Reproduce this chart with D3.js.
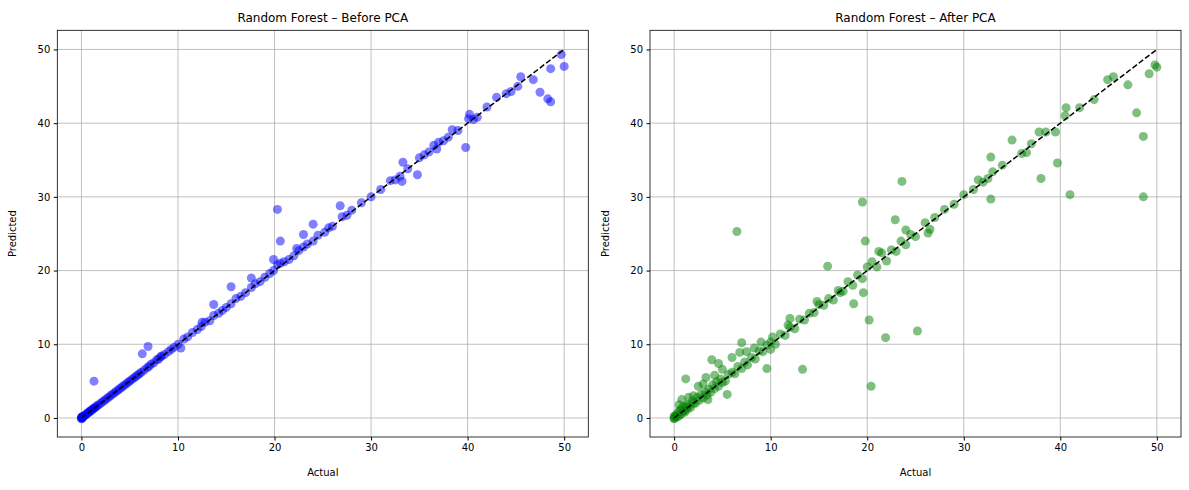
<!DOCTYPE html>
<html><head><meta charset="utf-8">
<script src="https://cdn.jsdelivr.net/npm/d3@7/dist/d3.min.js"></script>
<style>body{margin:0;background:#fff;font-family:"DejaVu Sans",sans-serif;}</style>
</head><body><svg id="c" width="1189" height="490"></svg>
<script>
const xTicks=[0,10,20,30,40,50];
const yTicks=[0,10,20,30,40,50];
const titles=["Random Forest – Before PCA","Random Forest – After PCA"];
const colors=["#0000ff","#008000"];
// Before PCA: [actual, predicted]
const beforeActual=[0,0,0,0.05,0.1,0.1,0.15,0.2,0.3,0.4,0.5,0.6,0.7,0.8,0.9,1.0,1.1,1.2,1.3,1.4,1.5,1.6,1.8,2.0,2.2,2.4,2.6,2.8,3.0,3.2,3.4,3.6,3.8,4.0,4.2,4.4,4.6,4.8,5.0,5.2,5.4,5.6,5.8,6.0,6.2,6.5,6.8,7.0,7.2,7.5,7.8,8.0,8.3,8.6,9.0,9.3,9.6,10.0,10.3,10.6,11.0,11.5,12.0,12.4,12.8,13.3,13.7,14.2,14.6,15.0,15.5,16.0,16.5,17.0,17.6,18.0,18.5,19.0,19.5,19.9,20.3,20.6,21.0,21.5,22.0,22.5,23.0,23.4,24.0,24.5,25.2,25.6,26.0,27.0,27.5,28.0,29.0,30.0,31.0,32.0,32.5,33.0,33.3,33.8,34.8,35.0,35.5,36.0,36.5,37.0,37.5,38.0,38.4,39.0,39.8,40.2,40.6,41.0,42.0,43.0,44.0,44.5,45.5,45.2,46.8,47.5,48.3,48.6,48.6,49.7,50.0,1.3,6.3,6.9,20.3,20.6,24.0,23.0,17.6,15.5,13.7,19.9,12.5,8.2,22.3,26.8,33.2,36.8,40.1];
const beforePred=[0,0.1,-0.1,0.05,0.15,0,0.2,0.2,0.3,0.4,0.5,0.6,0.75,0.8,0.95,1.0,1.1,1.25,1.3,1.4,1.5,1.65,1.8,2.0,2.2,2.4,2.6,2.8,3.0,3.2,3.4,3.6,3.8,4.0,4.2,4.4,4.6,4.8,5.0,5.2,5.4,5.6,5.8,6.0,6.2,6.5,6.8,7.0,7.3,7.5,7.9,8.0,8.4,8.6,9.0,9.3,9.6,10.0,9.5,10.7,11.0,11.6,12.0,12.4,13.0,13.2,13.9,14.2,14.6,15.0,15.5,16.2,16.5,17.0,17.7,18.2,18.5,19.1,19.6,20.0,20.8,21.0,21.2,21.5,22.0,22.7,23.2,23.6,24.0,24.8,25.2,25.8,26.0,27.3,27.5,28.2,29.2,30.0,31.0,32.2,32.3,32.8,34.7,33.8,33.0,35.3,35.7,36.1,37.0,37.4,37.6,38.1,39.1,39.0,36.7,41.2,40.5,40.8,42.2,43.5,44.0,44.3,46.3,45.0,45.9,44.2,43.3,42.9,47.4,49.3,47.7,5.0,8.7,9.7,28.3,24.0,26.3,24.9,19.0,17.8,15.4,21.5,13.0,8.3,23.0,28.8,32.1,36.5,40.6];
// After PCA
const afterActual=[0,0,0,0.1,0.2,0.3,0.4,0.5,0.6,0.7,0.8,0.9,1.0,1.1,1.2,1.3,1.4,1.5,1.7,1.9,2.0,2.2,2.4,2.6,2.8,3.0,3.2,3.4,3.6,3.8,4.0,4.2,4.4,4.6,4.8,5.0,5.3,5.6,6.0,6.3,6.6,7.0,7.3,7.6,8.0,8.4,8.8,9.2,9.6,10.0,10.5,11.0,11.5,12.0,12.5,13.0,13.5,14.0,14.5,15.0,15.5,16.0,16.5,17.0,17.5,18.0,18.5,19.0,19.5,20.0,20.5,21.0,21.5,22.0,22.5,23.0,23.5,24.0,24.5,25.0,26.0,26.5,27.0,28.0,29.0,30.0,31.0,31.5,32.0,32.5,33.0,34.0,36.0,37.0,38.5,39.5,40.5,42.0,43.5,0.5,0.8,1.5,2.0,2.5,3.0,3.3,4.2,5.0,6.0,6.8,7.5,8.3,9.0,10.2,11.8,14.8,17.2,21.2,6.5,19.5,23.6,20.4,20.2,25.2,21.9,13.3,19.6,18.6,15.9,9.6,5.5,3.9,4.6,1.2,48.6,48.6,41.0,47.9,49.2,47.0,44.9,45.5,50.0,49.8,38.0,35.0,37.8,36.5,39.7,32.8,32.8,40.6,19.8,22.9,24.0,26.3,10.0,12.0,7.0,3.5];
const afterPred=[0,0.2,-0.1,0.3,0.1,0.6,0.2,0.9,0.4,1.2,0.6,1.5,1.0,0.8,1.6,1.1,1.8,1.5,1.4,2.3,2.0,2.0,2.8,2.4,3.2,2.7,3.5,3.1,3.9,3.5,4.5,4.0,4.9,4.3,5.3,4.8,5.0,5.9,6.2,6.0,7.0,6.7,7.6,7.2,8.2,8.0,9.1,9.0,9.9,10.3,10.0,11.4,11.2,12.3,12.1,13.4,13.3,14.2,14.3,15.4,15.3,16.2,16.0,17.3,17.2,18.5,18.0,19.4,18.9,20.5,21.2,20.5,22.4,21.3,22.8,22.6,24.0,23.5,24.9,24.6,26.5,25.6,27.2,28.3,29.0,30.3,31.0,32.3,32.0,32.5,33.4,34.3,35.9,37.2,38.8,38.8,41.0,42.1,43.2,1.8,2.5,2.8,3.0,4.3,4.6,5.5,5.8,6.6,8.2,8.9,9.0,9.5,10.3,11.0,12.6,15.8,17.0,22.6,25.3,29.3,32.1,4.3,13.3,11.8,10.9,6.6,17.0,15.5,20.6,6.7,3.2,7.9,7.4,5.3,38.2,30.0,30.3,41.4,46.7,45.2,45.9,46.3,47.6,47.9,32.5,37.7,38.8,36.0,34.6,29.7,35.4,42.1,24.0,26.9,25.5,25.1,9.3,13.5,10.2,2.5];
const panels=[{ax:beforeActual,pr:beforePred},{ax:afterActual,pr:afterPred}];
const svg=d3.select("#c");
const lefts=[57.3,650],w=531,topY=30.3,h=406.7;
panels.forEach((p,i)=>{
  const x=d3.scaleLinear().domain([-2.5,52.5]).range([lefts[i],lefts[i]+w]);
  const y=d3.scaleLinear().domain([-2.58,52.6]).range([topY+h,topY]);
  const g=svg.append("g");
  g.selectAll(".gx").data(xTicks).join("line").attr("x1",d=>x(d)).attr("x2",d=>x(d)).attr("y1",topY).attr("y2",topY+h).attr("stroke","#b0b0b0").attr("stroke-width",0.8);
  g.selectAll(".gy").data(yTicks).join("line").attr("y1",d=>y(d)).attr("y2",d=>y(d)).attr("x1",lefts[i]).attr("x2",lefts[i]+w).attr("stroke","#b0b0b0").attr("stroke-width",0.8);
  g.append("g").selectAll("circle").data(p.ax.map((a,k)=>[a,p.pr[k]])).join("circle")
   .attr("cx",d=>x(d[0])).attr("cy",d=>y(d[1])).attr("r",4.5).attr("fill",colors[i]).attr("fill-opacity",0.5);
  g.append("line").attr("x1",x(0)).attr("y1",y(0)).attr("x2",x(50)).attr("y2",y(50)).attr("stroke","#000").attr("stroke-width",1.5).attr("stroke-dasharray","5.5,2.4");
  g.append("g").attr("transform",`translate(0,${topY+h})`).call(d3.axisBottom(x).tickValues(xTicks).tickSize(3.5).tickPadding(3.5)).call(a=>{a.select(".domain").remove();a.selectAll("text").attr("font-size",10).attr("font-family","DejaVu Sans").attr("fill","#000");});
  g.append("g").attr("transform",`translate(${lefts[i]},0)`).call(d3.axisLeft(y).tickValues(yTicks).tickSize(3.5).tickPadding(3.5)).call(a=>{a.select(".domain").remove();a.selectAll("text").attr("font-size",10).attr("font-family","DejaVu Sans").attr("fill","#000");});
  g.append("rect").attr("x",lefts[i]).attr("y",topY).attr("width",w).attr("height",h).attr("fill","none").attr("stroke","#000").attr("stroke-width",0.8);
  g.append("text").attr("x",lefts[i]+w/2).attr("y",22).attr("text-anchor","middle").attr("font-size",12).text(titles[i]);
  g.append("text").attr("x",lefts[i]+w/2).attr("y",476).attr("text-anchor","middle").attr("font-size",10).text("Actual");
  g.append("text").attr("transform",`translate(${lefts[i]-41},${topY+h/2}) rotate(-90)`).attr("text-anchor","middle").attr("font-size",10).text("Predicted");
});
</script></body></html>
